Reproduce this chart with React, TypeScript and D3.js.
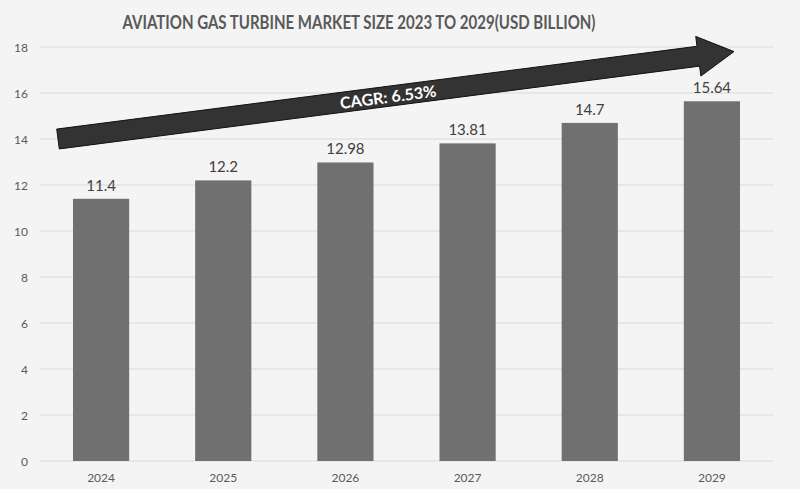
import * as d3 from 'd3';

const years = ['2024', '2025', '2026', '2027', '2028', '2029'];
const marketSize = [11.4, 12.2, 12.98, 13.81, 14.7, 15.64];
const yTicks = [0, 2, 4, 6, 8, 10, 12, 14, 16, 18];
const cagrLabel = 'CAGR: 6.53%';
const titleText = 'AVIATION GAS TURBINE MARKET SIZE 2023 TO 2029(USD BILLION)';

const WIDTH = 800;
const HEIGHT = 489;
const FONT = 'Lato, "Open Sans", sans-serif';

export default function App() {
    const x = d3.scaleBand<string>().domain(years).range([40, 773]).paddingInner(0.54).paddingOuter(0.27);
    const y = d3.scaleLinear().domain([0, 18]).range([461, 47]);

    // arrow annotation: from left of the first band (value ~14) to tip near 17.8
    const p0: [number, number] = [58, y(14)];
    const p1: [number, number] = [734, y(17.8)];
    const dx = p1[0] - p0[0];
    const dy = p1[1] - p0[1];
    const len = Math.hypot(dx, dy);
    const ux = dx / len;
    const uy = dy / len;
    const nx = -uy;
    const ny = ux;
    const shaftHalf = 10;
    const headHalf = 20;
    const headLen = 36;
    const bx = p1[0] - ux * headLen;
    const by = p1[1] - uy * headLen;
    const pt = (px: number, py: number, off: number) => `${px + nx * off},${py + ny * off}`;
    const arrowPoints = [
        pt(p0[0], p0[1], -shaftHalf),
        pt(bx, by, -shaftHalf),
        pt(bx, by, -headHalf),
        `${p1[0]},${p1[1]}`,
        pt(bx, by, headHalf),
        pt(bx, by, shaftHalf),
        pt(p0[0], p0[1], shaftHalf),
    ].join(' ');
    const angle = (Math.atan2(dy, dx) * 180) / Math.PI;
    const textX = 388;
    const textY = p0[1] + (dy * (textX - p0[0])) / dx;

    return (
        <div style={{ position: 'fixed', left: 0, top: 0 }}>
            <svg width={WIDTH} height={HEIGHT} style={{ display: 'block', background: '#f4f4f4' }} fontFamily={FONT}>
                <text x={359} y={28.5} textAnchor="middle" fontSize={19} fontWeight={700} fill="#595959" textLength={473} lengthAdjust="spacingAndGlyphs">
                    {titleText}
                </text>
                {yTicks.map((t) => (
                    <g key={t}>
                        <line x1={40} x2={773} y1={y(t)} y2={y(t)} stroke="#d9d9d9" strokeWidth={1} />
                        <text x={28} y={y(t) + 4.5} textAnchor="end" fontSize={12} fill="#595959">
                            {t}
                        </text>
                    </g>
                ))}
                {years.map((yr, i) => (
                    <g key={yr}>
                        <rect x={x(yr)} y={y(marketSize[i])} width={x.bandwidth()} height={y(0) - y(marketSize[i])} fill="#707070" />
                        <text x={(x(yr) ?? 0) + x.bandwidth() / 2} y={y(marketSize[i]) - 8} textAnchor="middle" fontSize={15} fill="#404040">
                            {marketSize[i]}
                        </text>
                        <text x={(x(yr) ?? 0) + x.bandwidth() / 2} y={482} textAnchor="middle" fontSize={12} fill="#595959">
                            {yr}
                        </text>
                    </g>
                ))}
                <polygon points={arrowPoints} fill="#333333" stroke="#111111" strokeWidth={1} />
                <text
                    x={textX}
                    y={textY}
                    transform={`rotate(${angle} ${textX} ${textY})`}
                    textAnchor="middle"
                    dominantBaseline="central"
                    fontSize={16}
                    fontWeight={700}
                    fill="#ffffff"
                    textLength={97}
                    lengthAdjust="spacingAndGlyphs"
                >
                    {cagrLabel}
                </text>
            </svg>
        </div>
    );
}
